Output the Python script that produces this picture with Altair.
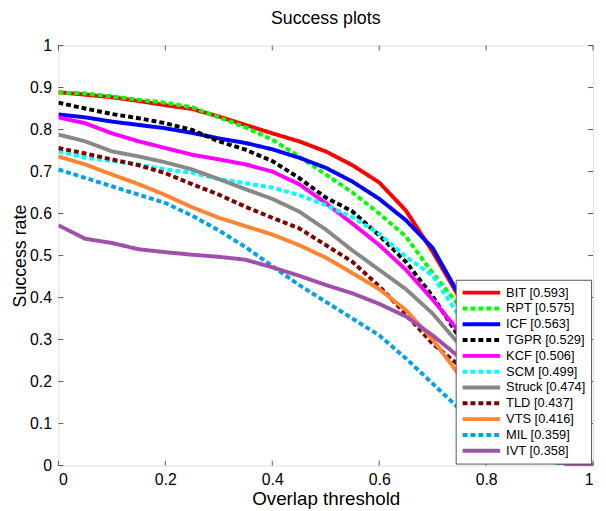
import altair as alt
import pandas as pd

thresholds = [0.0, 0.05, 0.1, 0.15, 0.2, 0.25, 0.3, 0.35, 0.4, 0.45, 0.5,
              0.55, 0.6, 0.65, 0.7, 0.75, 0.8, 0.85, 0.9, 0.95, 1.0]

names = ["BIT", "RPT", "ICF", "TGPR", "KCF", "SCM", "Struck", "TLD", "VTS", "MIL", "IVT"]
scores = ["0.593", "0.575", "0.563", "0.529", "0.506", "0.499", "0.474", "0.437", "0.416", "0.359", "0.358"]
colors = ["#ff0000", "#00ff00", "#0000ff", "#000000", "#ff00ff", "#00ffff",
          "#888888", "#800000", "#ff8533", "#00a2e8", "#a050aa"]
dashed = [False, True, False, True, False, True, False, True, False, True, False]

BIT = [0.889, 0.883, 0.877, 0.868, 0.858, 0.849, 0.831, 0.811, 0.791, 0.772, 0.748,
       0.715, 0.674, 0.607, 0.509, 0.400, 0.27, 0.13, 0.04, 0.006, 0.0]
RPT = [0.888, 0.886, 0.879, 0.871, 0.864, 0.853, 0.829, 0.805, 0.776, 0.736, 0.693,
       0.650, 0.600, 0.545, 0.458, 0.380, 0.25, 0.12, 0.035, 0.005, 0.0]
ICF = [0.836, 0.829, 0.819, 0.811, 0.803, 0.792, 0.779, 0.768, 0.753, 0.733, 0.709,
       0.676, 0.635, 0.584, 0.518, 0.405, 0.27, 0.13, 0.04, 0.006, 0.0]
TGPR = [0.864, 0.850, 0.837, 0.827, 0.815, 0.799, 0.772, 0.752, 0.725, 0.685, 0.638,
        0.605, 0.548, 0.485, 0.403, 0.305, 0.19, 0.08, 0.02, 0.004, 0.0]
KCF = [0.829, 0.815, 0.791, 0.772, 0.756, 0.740, 0.729, 0.717, 0.700, 0.670, 0.625,
       0.576, 0.525, 0.466, 0.395, 0.318, 0.20, 0.09, 0.025, 0.004, 0.0]
SCM = [0.748, 0.733, 0.725, 0.717, 0.705, 0.697, 0.682, 0.672, 0.662, 0.644, 0.620,
       0.591, 0.552, 0.497, 0.452, 0.355, 0.24, 0.11, 0.035, 0.006, 0.0]
Struck = [0.788, 0.772, 0.748, 0.736, 0.722, 0.705, 0.682, 0.658, 0.635, 0.605, 0.562,
          0.512, 0.466, 0.420, 0.362, 0.288, 0.18, 0.08, 0.025, 0.005, 0.0]
TLD = [0.756, 0.743, 0.729, 0.715, 0.696, 0.670, 0.645, 0.616, 0.590, 0.565, 0.525,
       0.485, 0.427, 0.360, 0.290, 0.238, 0.15, 0.07, 0.02, 0.004, 0.0]
VTS = [0.736, 0.717, 0.693, 0.670, 0.644, 0.615, 0.590, 0.570, 0.550, 0.525, 0.495,
       0.458, 0.420, 0.370, 0.300, 0.215, 0.13, 0.06, 0.018, 0.004, 0.0]
MIL = [0.705, 0.685, 0.665, 0.645, 0.625, 0.595, 0.560, 0.520, 0.475, 0.430, 0.390,
       0.350, 0.310, 0.255, 0.195, 0.135, 0.08, 0.04, 0.012, 0.003, 0.0]
IVT = [0.572, 0.540, 0.530, 0.515, 0.508, 0.502, 0.497, 0.490, 0.472, 0.452, 0.430,
       0.410, 0.385, 0.355, 0.310, 0.258, 0.17, 0.08, 0.025, 0.005, 0.0]

series = [BIT, RPT, ICF, TGPR, KCF, SCM, Struck, TLD, VTS, MIL, IVT]

x_ticks = [0.0, 0.2, 0.4, 0.6, 0.8, 1.0]
y_ticks = [0.0, 0.1, 0.2, 0.3, 0.4, 0.5, 0.6, 0.7, 0.8, 0.9, 1.0]

labels = [f"{n} [{s}]" for n, s in zip(names, scores)]
rows = []
for i, (lab, vals) in enumerate(zip(labels, series)):
    for t, v in zip(thresholds, vals):
        rows.append({"label": lab, "idx": i, "t": t, "v": v})
df = pd.DataFrame(rows)

W, H = 541, 425
FONT = "Arial"

xscale = alt.Scale(domain=[0, 1], nice=False, zero=False)
yscale = alt.Scale(domain=[0, 1], nice=False, zero=False)

dash_range = [[5, 3] if d else [1, 0] for d in dashed]

lines = alt.Chart(df).mark_line(strokeWidth=4, clip=True).encode(
    x=alt.X("t:Q", scale=xscale,
            axis=alt.Axis(values=x_ticks, format="~g", title="Overlap threshold",
                          ticks=False, domain=False, grid=False, labelPadding=6,
                          labelFontSize=16, titleFontSize=19, titlePadding=2,
                          labelColor="#000", titleColor="#000",
                          labelFont=FONT, titleFont=FONT, titleFontWeight="normal")),
    y=alt.Y("v:Q", scale=yscale,
            axis=alt.Axis(values=y_ticks, format="~g", title="Success rate",
                          ticks=False, domain=False, grid=False, labelPadding=7,
                          labelFontSize=16, titleFontSize=18, titlePadding=0,
                          labelColor="#000", titleColor="#000",
                          labelFont=FONT, titleFont=FONT, titleFontWeight="normal")),
    color=alt.Color("label:N", scale=alt.Scale(domain=labels, range=colors),
                    legend=alt.Legend(title=None, orient="bottom-right", offset=2,
                                      fillColor="white", strokeColor="#555",
                                      padding=5, labelFontSize=13, labelFont=FONT,
                                      labelColor="#000",
                                      symbolType="M-3.17,0H3.17", symbolSize=144,
                                      symbolStrokeWidth=4, rowPadding=0,
                                      symbolOffset=13, labelOffset=17, labelLimit=200)),
    strokeDash=alt.StrokeDash("label:N", scale=alt.Scale(domain=labels, range=dash_range),
                              legend=alt.Legend(title=None)),
    detail="idx:N",
    order="t:Q",
)

tick_len = 5
xt = pd.DataFrame({"t": x_ticks})
yt = pd.DataFrame({"v": y_ticks})

xticks_bottom = alt.Chart(xt).mark_rule(color="#555", strokeWidth=1).encode(
    x=alt.X("t:Q", scale=xscale), y=alt.value(H), y2=alt.value(H - tick_len))
xticks_top = alt.Chart(xt).mark_rule(color="#555", strokeWidth=1).encode(
    x=alt.X("t:Q", scale=xscale), y=alt.value(0), y2=alt.value(tick_len))
yticks_left = alt.Chart(yt).mark_rule(color="#555", strokeWidth=1).encode(
    y=alt.Y("v:Q", scale=yscale), x=alt.value(0), x2=alt.value(tick_len))
yticks_right = alt.Chart(yt).mark_rule(color="#555", strokeWidth=1).encode(
    y=alt.Y("v:Q", scale=yscale), x=alt.value(W), x2=alt.value(W - tick_len))

chart = alt.layer(xticks_bottom, xticks_top, yticks_left, yticks_right, lines).properties(
    width=W, height=H,
    title=alt.TitleParams("Success plots", fontSize=18, fontWeight="normal",
                          font=FONT, color="#000", anchor="middle", offset=10),
    autosize=alt.AutoSizeParams(type="none"),
    padding={"left": 51, "top": 35, "right": 5, "bottom": 43},
).configure_view(stroke="#555", strokeWidth=1).configure(background="white")

chart.save("out.html", embed_options={"renderer": "svg", "actions": False})
